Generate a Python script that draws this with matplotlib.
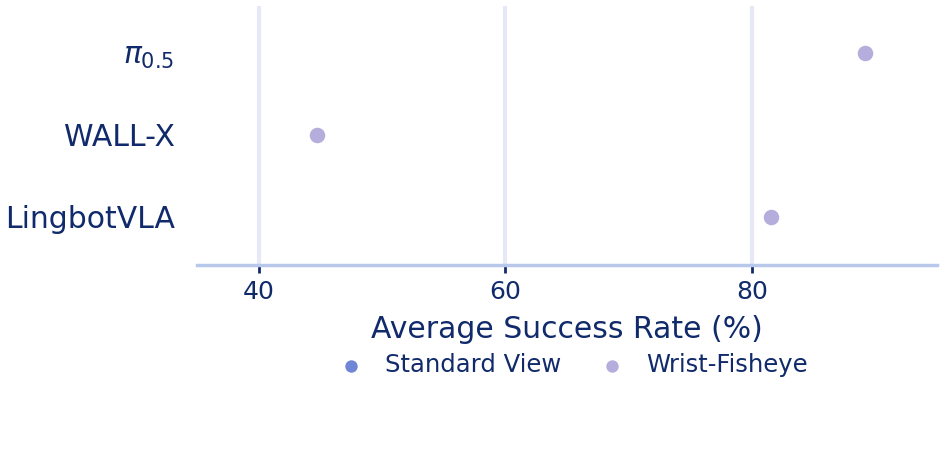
import matplotlib
matplotlib.use('Agg')
import matplotlib.pyplot as plt

# data
models = ['LingbotVLA', 'WALL-X', r'$\pi_{0.5}$']
standard_view = [float('nan'), float('nan'), float('nan')]   # not visible in the chart
wrist_fisheye = [81.5, 44.7, 89.2]
xticks = [40, 60, 80]

navy = '#102a6b'

def main():
    fig = plt.figure(figsize=(9.42, 4.74), dpi=100)
    ax = fig.add_axes([197/942, 1-265/474, (937-197)/942, (265-6)/474])

    y = list(range(len(models)))
    ax.scatter(standard_view, y, s=125, color='#6f86d6', linewidths=0,
               label='Standard View', zorder=3)
    ax.scatter(wrist_fisheye, y, s=125, color='#b5aedc', linewidths=0,
               label='Wrist-Fisheye', zorder=4)

    ax.set_xlim(35, 95)
    ax.set_ylim(-0.59, 2.57)
    ax.set_yticks(y)
    ax.set_yticklabels(models, fontsize=21.5, color=navy)
    ax.set_xticks(xticks)
    ax.tick_params(axis='x', labelsize=18, colors=navy, length=6, width=2, pad=5)
    ax.tick_params(axis='y', length=0, pad=16)

    ax.grid(axis='x', color='#e6e9f5', linewidth=3)
    ax.set_axisbelow(True)
    for s in ['top', 'right', 'left']:
        ax.spines[s].set_visible(False)
    ax.spines['bottom'].set_color('#b8c8ea')
    ax.spines['bottom'].set_linewidth(2.5)

    ax.set_xlabel('Average Success Rate (%)', fontsize=21.5, color=navy, labelpad=8)
    leg = ax.legend(loc='upper center', bbox_to_anchor=(0.5, -0.304), ncol=2,
                    frameon=False, fontsize=17.5, handletextpad=0.4, columnspacing=1.1,
                    markerscale=0.8, borderaxespad=0)
    for t in leg.get_texts():
        t.set_color(navy)

    fig.savefig('out.png', dpi=100)

if __name__ == '__main__':
    main()
